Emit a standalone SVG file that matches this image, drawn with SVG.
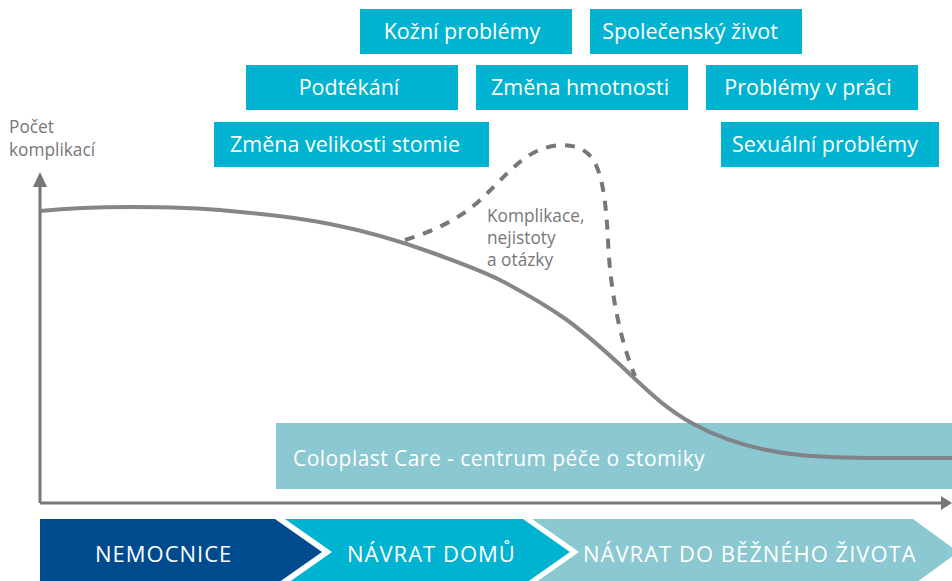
<svg xmlns="http://www.w3.org/2000/svg" width="952" height="581" viewBox="0 0 952 581">
<style>
text{font-family:"Open Sans","Liberation Sans",sans-serif}
.box rect{fill:#00b3d0}
.box text{fill:#fff;font-size:21.5px;text-anchor:middle}
.axis{stroke:#77777a;stroke-width:3;fill:none}
.lbl{fill:#77777a;font-size:17.3px}
.chev text{fill:#fff;font-size:22px;letter-spacing:1px}
</style>
<rect width="952" height="581" fill="#fff"/>

<g id="band">
<rect x="276" y="423" width="676" height="66" fill="#8cc8d1"/>
<text x="293" y="466" fill="#fff" style="font-size:21px;letter-spacing:0.45px">Coloplast Care - centrum péče o stomiky</text>
</g>

<g id="axes">
<path class="axis" d="M40,503 V186"/>
<path d="M33,187 L40,172 L47,187 Z" fill="#77777a"/>
<path class="axis" d="M40,503 H942"/>
<path d="M941,496 L952,503 L941,510 Z" fill="#77777a"/>
</g>
<g id="axis-label">
<text class="lbl" x="9" y="133">Počet</text>
<text class="lbl" x="9" y="156">komplikací</text>
</g>

<g id="connectors">
<path d="M40,211 C70,208 100,207 130,207 C165,207 200,208 230,211 C265,214 300,218 330,224 C365,231 400,241 430,252 C458,262 478,269 500,280 C523,292 550,308 567,320 C590,337 612,357 633,377 C660,402 700,445 800,455 C830,458 860,458 880,458 L952,458" fill="none" stroke="#808083" stroke-width="4" opacity="0.95"/>
<path d="M405,240 C430,232 455,222 478,202 C500,182 515,162 535,152 C555,142 580,142 592,158 C602,172 606,200 608,240 C610,290 620,340 635,376" fill="none" stroke="#77777a" stroke-width="4" stroke-dasharray="10,9"/>
</g>
<g id="curve-label">
<text class="lbl" x="487" y="222">Komplikace,</text>
<text class="lbl" x="487" y="244">nejistoty</text>
<text class="lbl" x="487" y="266">a otázky</text>
</g>

<g id="n1" class="box"><rect x="360" y="9" width="212" height="45"/><text x="462" y="39">Kožní problémy</text></g>
<g id="n2" class="box"><rect x="590" y="9" width="212" height="45"/><text x="690" y="39">Společenský život</text></g>
<g id="n3" class="box"><rect x="246" y="65" width="212" height="45"/><text x="349" y="95">Podtékání</text></g>
<g id="n4" class="box"><rect x="476" y="65" width="212" height="45"/><text x="580" y="95">Změna hmotnosti</text></g>
<g id="n5" class="box"><rect x="706" y="65" width="212" height="45"/><text x="808" y="95">Problémy v práci</text></g>
<g id="n6" class="box"><rect x="214" y="122" width="275" height="45"/><text x="345" y="152">Změna velikosti stomie</text></g>
<g id="n7" class="box"><rect x="721" y="122" width="218" height="45"/><text x="825" y="152">Sexuální problémy</text></g>

<g id="c1" class="chev">
<polygon points="40,519 275,519 322,552 275,585 40,585" fill="#004b8e"/>
<text x="95" y="562">NEMOCNICE</text>
</g>
<g id="c2" class="chev">
<polygon points="285,519 523,519 570,552 523,585 285,585 332,552" fill="#00b3d1"/>
<text x="347" y="562">NÁVRAT DOMŮ</text>
</g>
<g id="c3" class="chev">
<polygon points="532,519 913,519 958,552 913,585 532,585 579,552" fill="#8cc8d1"/>
<text x="583" y="562">NÁVRAT DO BĚŽNÉHO ŽIVOTA</text>
</g>
</svg>
